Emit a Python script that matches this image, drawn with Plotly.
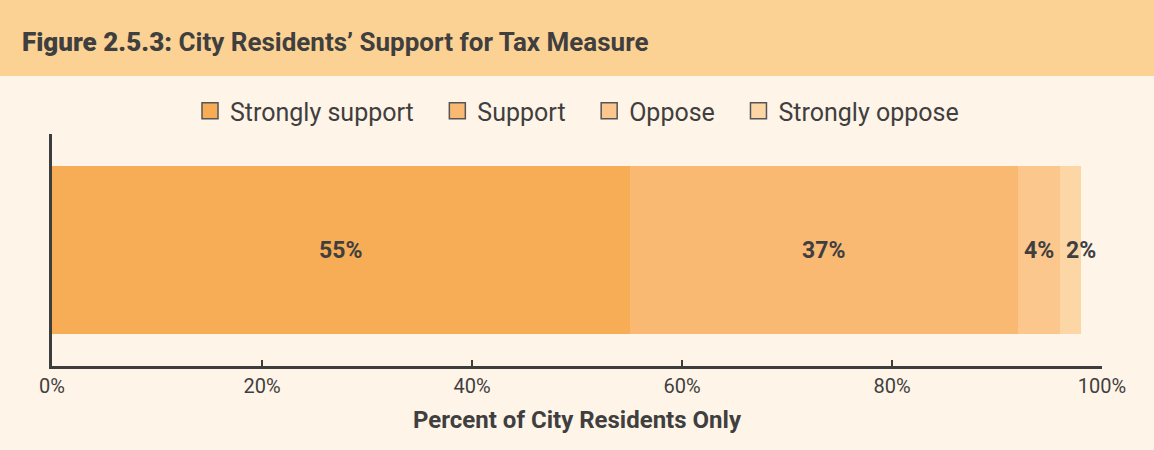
import plotly.graph_objects as go

# Survey responses (percent of city residents)
categories = ["Strongly support", "Support", "Oppose", "Strongly oppose"]
values = [55, 37, 4, 2]
colors = ["#F6AD55", "#F9B972", "#FCC78C", "#FDD6A5"]
row_label = ["City Residents"]
tick_vals = [0, 20, 40, 60, 80, 100]
tick_text = ["0%", "20%", "40%", "60%", "80%", "100%"]

TEXT = "#3F3F3F"
BG = "#FFF4E8"
BAND = "#FCD294"
FONT = "Roboto"

fig = go.Figure()

# stacked horizontal segments
for name, val, col in zip(categories, values, colors):
    fig.add_trace(go.Bar(
        y=row_label, x=[val], name=name, orientation="h",
        marker=dict(color=col, line=dict(width=0)),
        showlegend=False, hoverinfo="x+name",
    ))

# legend entries with outlined square swatches
for i, (name, col) in enumerate(zip(categories, colors)):
    pad = "" if i == len(categories) - 1 else "\u00a0" * 3
    fig.add_trace(go.Scatter(
        x=[None], y=[None], name=name + pad, mode="markers",
        marker=dict(symbol="square", size=17, color=col,
                    line=dict(width=1.5, color="#555555")),
        showlegend=True,
    ))

# value labels centred in each segment
annotations = []
left = 0
for i, val in enumerate(values):
    annotations.append(dict(
        x=left + val / 2, y=row_label[0], xref="x", yref="y",
        text=f"<b>{val}%</b>", showarrow=False,
        xshift=10 if i == len(values) - 1 else 0,
        font=dict(family=FONT, size=23, color=TEXT),
    ))
    left += val

# axis title
annotations.append(dict(
    x=0.5, y=-0.233, xref="paper", yref="paper",
    text="<b>Percent of City Residents Only</b>", showarrow=False,
    xanchor="center", yanchor="middle",
    font=dict(family=FONT, size=24, color=TEXT),
))

fig.update_layout(
    width=1154, height=450,
    margin=dict(l=52, r=52, t=134, b=84),
    paper_bgcolor=BG, plot_bgcolor=BG,
    barmode="stack", bargap=0.28,
    font=dict(family=FONT, color=TEXT),
    title=dict(
        text="<span style='font-weight:900'>Figure 2.5.3:</span> City Residents’ Support for Tax Measure",
        x=22 / 1154, xref="container", xanchor="left",
        y=1 - 42 / 450, yref="container", yanchor="middle",
        font=dict(family=FONT, size=26, color=TEXT, weight=700),
    ),
    legend=dict(
        orientation="h", x=0.5, xanchor="center", y=1.099, yanchor="middle",
        font=dict(family=FONT, size=25, color=TEXT),
        bgcolor="rgba(0,0,0,0)", traceorder="normal",
    ),
    xaxis=dict(
        range=[0, 100], tickvals=tick_vals, ticktext=tick_text,
        showgrid=False, zeroline=False,
        showline=True, linecolor="#3D3D3D", linewidth=2.5,
        ticks="inside", ticklen=6, tickwidth=2, tickcolor="#3D3D3D",
        tickfont=dict(family=FONT, size=20, color=TEXT),
        fixedrange=True,
    ),
    yaxis=dict(
        range=[-0.5, 0.5], showticklabels=False, showgrid=False,
        zeroline=False, showline=True, linecolor="#3D3D3D", linewidth=3,
        ticks="", fixedrange=True,
    ),
    annotations=annotations,
    shapes=[dict(
        type="rect", xref="paper", yref="paper", layer="below",
        x0=-52 / 1050, x1=1 + 52 / 1050,
        y0=1 + (134 - 76) / 232, y1=1 + 134 / 232,
        fillcolor=BAND, line=dict(width=0),
    )],
)

fig.write_html("out.html")
